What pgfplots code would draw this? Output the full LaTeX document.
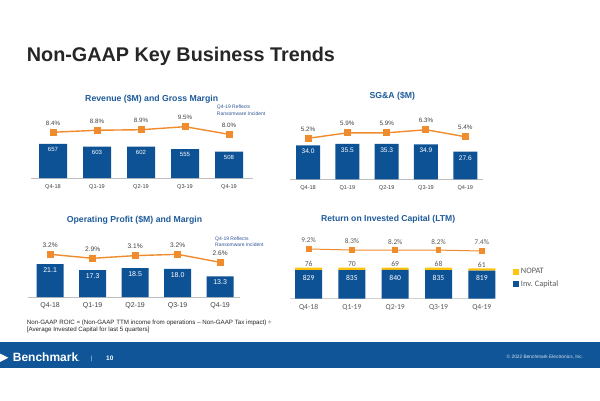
\documentclass[border=0pt]{standalone}
\usepackage{fontspec}
\setmainfont{Liberation Sans}
\newfontfamily\carlito{Carlito}
\usepackage{pgfplots}
\pgfplotsset{compat=1.18}
\definecolor{barblue}{HTML}{0E5296}
\definecolor{titleblue}{HTML}{1F5B9B}
\definecolor{annblue}{HTML}{2F5597}
\definecolor{lineorange}{HTML}{F08C2E}
\definecolor{nopat}{HTML}{FFC20E}
\definecolor{titledark}{HTML}{262626}
\definecolor{ticktext}{HTML}{404040}
\definecolor{roictext}{HTML}{595959}
\definecolor{axisgray}{HTML}{BFBFBF}
\definecolor{footblue}{HTML}{0F5597}
\newcommand{\fs}[1]{\fontsize{#1}{#1}\selectfont}
\pgfplotsset{
  base/.style={scale only axis, anchor=south west, clip=false,
    point meta=explicit symbolic, xtick={0,1,2,3,4}},
  barax/.style={base, axis x line*=bottom, axis y line=none, ytick=\empty,
    x axis line style={draw=axisgray, line width=0.75pt},
    xticklabels={Q4-18,Q1-19,Q2-19,Q3-19,Q4-19}, major tick length=0pt, ymin=0,
    xticklabel style={anchor=north, inner sep=0pt, text=ticktext}},
  lineax/.style={base, hide axis},
  oline/.style={color=lineorange, line width=1.4pt, mark=square*, mark size=2.8pt,
    mark options={solid, fill=lineorange, draw=lineorange}},
  inlab/.style={nodes near coords, every node near coord/.append style={anchor=north, inner sep=0pt, yshift=-3.5pt, text=white, font=#1}},
  uplab/.style={nodes near coords, every node near coord/.append style={anchor=south, inner sep=0pt, yshift=6.3pt, text=ticktext, font=#1}},
}
\begin{document}
\begin{tikzpicture}[x=1pt,y=1pt]
\useasboundingbox (0,0) rectangle (600,400);
\fill[white] (0,0) rectangle (600,400);
% main title
\node[anchor=base west, inner sep=0pt, text=titledark, font=\bfseries\fs{19.8}] at (26.7,338.3) {Non-GAAP Key Business Trends};

% ---------------- Revenue ----------------
\node[text=titleblue, font=\bfseries\fs{8.7}, inner sep=0pt] at (151.7,301) {Revenue (\$M) and Gross Margin};
\begin{axis}[barax, ybar, at={(31pt,222pt)}, x=44pt, xmin=-0.5, xmax=4.55, y=0.052pt, ymax=700,
  bar width=28pt, xticklabel style={font=\fs{5.6}, yshift=-6pt}]
\addplot[fill=barblue, draw=none, inlab=\fs{6}] coordinates {(0,657)[657] (1,603)[603] (2,602)[602] (3,555)[555] (4,508)[508]};
\end{axis}
\begin{axis}[lineax, at={(31pt,222pt)}, x=44pt, xmin=-0.5, xmax=4.55, y=5.07pt, ymin=-0.62, ymax=10]
\addplot[oline, uplab=\fs{6.2}] coordinates {(0,8.4)[8.4\%] (1,8.8)[8.8\%] (2,8.9)[8.9\%] (3,9.5)[9.5\%] (4,8.0)[8.0\%]};
\end{axis}
\node[anchor=west, align=left, text=annblue, font=\fs{5}, inner sep=0pt] at (216.7,289.6) {Q4-19 Reflects\\[1.6pt]Ransomware Incident};

% ---------------- SG&A ----------------
\node[text=titleblue, font=\bfseries\fs{8.7}, inner sep=0pt] at (392.3,304.3) {SG\&A (\$M)};
\begin{axis}[barax, ybar, at={(290pt,220.7pt)}, x=39.3pt, xmin=-0.46, xmax=4.46, y=1pt, ymax=40,
  bar width=24pt, xticklabel style={font=\fs{5.6}, yshift=-6pt}]
\addplot[fill=barblue, draw=none, inlab=\fs{6.6}] coordinates {(0,34.0)[34.0] (1,35.5)[35.5] (2,35.3)[35.3] (3,34.9)[34.9] (4,27.6)[27.6]};
\end{axis}
\begin{axis}[lineax, at={(290pt,220.7pt)}, x=39.3pt, xmin=-0.46, xmax=4.46, y=7.8pt, ymin=-0.056, ymax=7]
\addplot[oline, uplab=\fs{6.3}] coordinates {(0,5.2)[5.2\%] (1,5.9)[5.9\%] (2,5.9)[5.9\%] (3,6.3)[6.3\%] (4,5.4)[5.4\%]};
\end{axis}

% ---------------- Operating Profit ----------------
\node[text=titleblue, font=\bfseries\fs{8.7}, inner sep=0pt] at (134.5,180) {Operating Profit (\$M) and Margin};
\begin{axis}[barax, ybar, at={(28pt,103pt)}, x=42.5pt, xmin=-0.52, xmax=4.47, y=1.56pt, ymax=25,
  bar width=27pt, xticklabel style={font=\fs{7}, yshift=-5.5pt}]
\addplot[fill=barblue, draw=none, inlab=\fs{7}] coordinates {(0,21.1)[21.1] (1,17.3)[17.3] (2,18.5)[18.5] (3,18.0)[18.0] (4,13.3)[13.3]};
\end{axis}
\begin{axis}[lineax, at={(28pt,103pt)}, x=42.5pt, xmin=-0.52, xmax=4.47, y=13.3pt, ymin=-0.01, ymax=4]
\addplot[oline, uplab=\fs{6.6}] coordinates {(0,3.2)[3.2\%] (1,2.9)[2.9\%] (2,3.1)[3.1\%] (3,3.2)[3.2\%] (4,2.6)[2.6\%]};
\end{axis}
\node[anchor=west, align=left, text=annblue, font=\fs{5}, inner sep=0pt] at (215,158.3) {Q4-19 Reflects\\[1.6pt]Ransomware Incident};

% ---------------- ROIC ----------------
\node[text=titleblue, font=\bfseries\fs{8.6}, inner sep=0pt] at (388.2,181) {Return on Invested Capital (LTM)};
\begin{axis}[barax, ybar stacked, at={(290pt,101.5pt)}, x=43.3pt, xmin=-0.43, xmax=4.25, y=0.0341pt, ymax=1000,
  bar width=27pt, x axis line style={draw=axisgray!70, line width=0.5pt},
  xticklabel style={font=\carlito\fs{7.6}, text=roictext, yshift=-6pt},
  reverse legend, legend cell align=left,
  legend style={at={(axis cs:4.72,601)}, anchor=west, draw=none, fill=none, font=\carlito\fs{8.3},
    text=roictext, row sep=1.5pt, inner sep=0pt, nodes={inner sep=1.8pt}},
  legend image code/.code={\fill[#1] (0pt,-3pt) rectangle (6pt,3pt);}]
\addplot[fill=barblue, draw=none, nodes near coords, every node near coord/.append style={anchor=center, inner sep=0pt, yshift=6.5pt, text=white, font=\carlito\fs{7.6}}] coordinates {(0,829)[829] (1,835)[835] (2,840)[840] (3,835)[835] (4,819)[819]};
\addlegendentry{Inv. Capital}
\addplot[fill=nopat, draw=none, nodes near coords, every node near coord/.append style={anchor=south, inner sep=0pt, yshift=1.8pt, text=roictext, font=\carlito\fs{7.6}}] coordinates {(0,76)[76] (1,70)[70] (2,69)[69] (3,68)[68] (4,61)[61]};
\addlegendentry{NOPAT}
\end{axis}
\begin{axis}[lineax, at={(290pt,101.5pt)}, x=43.3pt, xmin=-0.43, xmax=4.25, y=1.11pt, ymin=-35.4, ymax=10]
\addplot[color=lineorange, line width=1pt, mark=square*, mark size=2.4pt,
  mark options={solid, fill=lineorange, draw=lineorange}, nodes near coords,
  every node near coord/.append style={anchor=south, inner sep=0pt, yshift=5.5pt, text=roictext, font=\carlito\fs{7.2}}]
  coordinates {(0,9.2)[9.2\%] (1,8.3)[8.3\%] (2,8.2)[8.2\%] (3,8.2)[8.2\%] (4,7.4)[7.4\%]};
\end{axis}

% footnote (two lines, placed separately)
\node[anchor=base west, inner sep=0pt, text=titledark, font=\fs{6.2}] at (26.7,75.5)
  {Non-GAAP ROIC = (Non-GAAP TTM income from operations – Non-GAAP Tax impact) ÷};
\node[anchor=base west, inner sep=0pt, text=titledark, font=\fs{6.2}] at (26.7,68.9)
  {[Average Invested Capital for last 5 quarters]};

% footer
\fill[footblue] (0,32) rectangle (600,58);
\fill[white] (0,46.5) -- (8.3,42.3) -- (0,38) -- cycle;
\node[anchor=base west, inner sep=0pt, text=white, font=\bfseries\fs{12}] at (12.7,39) {Benchmark\fs{5}.};
\node[anchor=base, inner sep=0pt, text=white!85!footblue, font=\fs{6}] at (91.7,40) {|};
\node[anchor=base west, inner sep=0pt, text=white, font=\bfseries\fs{6.5}] at (106,40) {10};
\node[anchor=base east, inner sep=0pt, text=white!85!footblue, font=\fs{4.8}] at (583.3,41.7) {© 2022 Benchmark Electronics, Inc.};
\end{tikzpicture}
\end{document}
